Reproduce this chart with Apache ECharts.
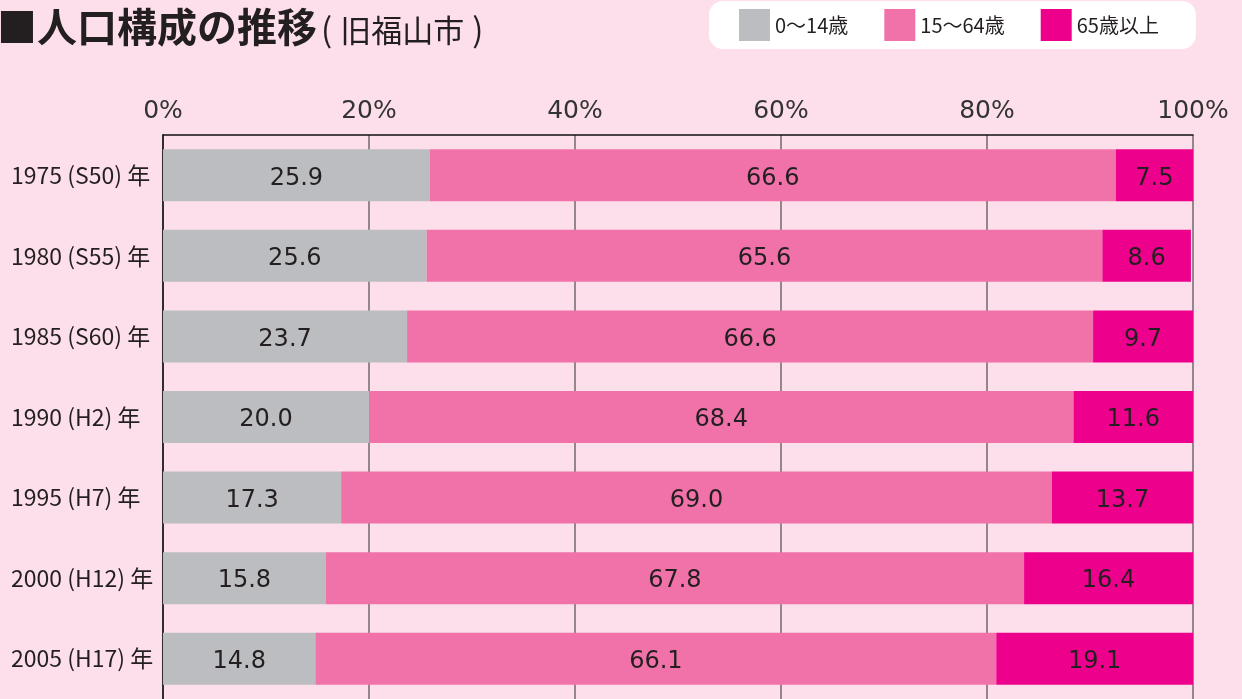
<!DOCTYPE html>
<html><head><meta charset="utf-8">
<script src="https://cdn.jsdelivr.net/npm/echarts@6/dist/echarts.min.js"></script>
<style>html,body{margin:0;padding:0;background:#fcdfea;}#c{width:1242px;height:699px;}</style>
</head><body><div id="c"></div>
<script>
const categories = ['1975 (S50) 年','1980 (S55) 年','1985 (S60) 年','1990 (H2) 年','1995 (H7) 年','2000 (H12) 年','2005 (H17) 年'];
const seriesNames = ['0〜14歳','15〜64歳','65歳以上'];
const young = [25.9, 25.6, 23.7, 20.0, 17.3, 15.8, 14.8];
const working = [66.6, 65.6, 66.6, 68.4, 69.0, 67.8, 66.1];
const elderly = [7.5, 8.6, 9.7, 11.6, 13.7, 16.4, 19.1];
const colors = ['#bcbdc0', '#f072a9', '#ec008c'];

const chart = echarts.init(document.getElementById('c'));
const mk = (name, data, color) => ({
  name, type: 'bar', stack: 'total', data, barWidth: 52,
  itemStyle: {color},
  label: {show: true, position: 'inside', offset: [0, 3], color: '#231f20', fontSize: 24,
    fontFamily: '"DejaVu Sans", sans-serif', formatter: p => p.value.toFixed(1)}
});
const cjk = '"Noto Sans CJK JP", sans-serif';
chart.setOption({
  backgroundColor: '#fcdfea',
  animation: false,
  title: {
    text: '■人口構成の推移{p1|(}{s|旧福山市}{p2|)}',
    left: -8, top: 2,
    textStyle: {fontSize: 40, fontWeight: 'bold', color: '#231f20', fontFamily: cjk,
      rich: {
        s: {fontSize: 31, fontWeight: 'normal', color: '#231f20', fontFamily: cjk, padding: [6, 0, 0, 0]},
        p1: {fontSize: 33, fontWeight: 'normal', color: '#231f20', fontFamily: cjk, padding: [4, 8, 0, 4]},
        p2: {fontSize: 33, fontWeight: 'normal', color: '#231f20', fontFamily: cjk, padding: [4, 0, 0, 8]}
      }}
  },
  legend: {
    data: seriesNames, left: 709, top: 1, icon: 'rect',
    padding: [8, 37, 8, 30], backgroundColor: '#ffffff', borderRadius: 14,
    itemWidth: 31, itemHeight: 32, itemGap: 36,
    textStyle: {fontSize: 20, color: '#231f20', fontFamily: cjk}
  },
  grid: {left: 163, right: 49, top: 135, height: 568},
  xAxis: {
    type: 'value', position: 'top', min: 0, max: 100, interval: 20,
    axisLine: {show: true, lineStyle: {color: '#111', width: 1.5}},
    axisTick: {show: false},
    axisLabel: {formatter: '{value}%', fontSize: 25, color: '#333', margin: 11,
      fontFamily: '"DejaVu Sans", sans-serif'},
    splitLine: {show: true, lineStyle: {color: '#716a6d', width: 1.5}}
  },
  yAxis: {
    type: 'category', data: categories, inverse: true,
    axisLine: {show: true, lineStyle: {color: '#111', width: 1.5}},
    axisTick: {show: false},
    axisLabel: {align: 'left', margin: 152, fontSize: 23, color: '#231f20', fontFamily: cjk,
      padding: [4, 0, 0, 0]}
  },
  series: [mk(seriesNames[0], young, colors[0]), mk(seriesNames[1], working, colors[1]), mk(seriesNames[2], elderly, colors[2])]
});
</script></body></html>
